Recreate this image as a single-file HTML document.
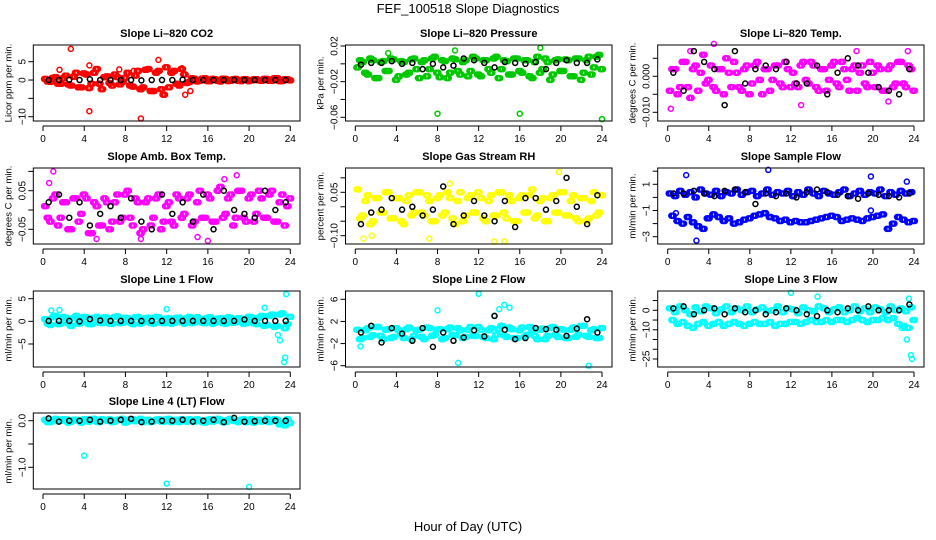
<!DOCTYPE html>
<html><head><meta charset="utf-8"><style>
body{margin:0;background:#fff}
svg{display:block;font-family:"Liberation Sans",sans-serif}
</style></head><body>
<svg id="chart" width="936" height="540" viewBox="0 0 936 540">
<text x="468" y="13" text-anchor="middle" font-size="13">FEF_100518  Slope Diagnostics</text>
<text x="468" y="531" text-anchor="middle" font-size="13">Hour of Day (UTC)</text>
</svg>
<script>
// x ticks shared
const xTicks=[0,4,8,12,16,20,24];
// Panel 1 CO2
const p1c1=[0.3,-0.5,0.8,-1,1.2,-1.5,2,-2,1.5,-1,3,-2.5,1,-1.5,0.8,-0.5,2,-1.8,2.5,-2,3,-3,2.5,-4,-2,2.5,-1.5,1.5,-0.5,0.3,-0.2,0.5,-0.3,0.2,-0.4,0.3,-0.2,0.3,-0.3,0.2,-0.1,0.2,-0.2,0.3,-0.2,0.5,-0.3,0.2];
const p1c2=[-0.4,0.6,-1,0.5,-1.2,0.9,-2,1.8,-2.2,2,-1,0.8,-0.8,1.5,-1.2,0.6,-1.5,1.2,-2.5,2.8,-3,2,-2.5,3.5,2,-1,3,-0.8,0.5,-0.4,0.4,-0.3,0.3,-0.2,0.4,-0.3,0.2,-0.2,0.2,-0.3,0.2,-0.1,0.3,-0.2,0.5,-0.3,0.2,-0.1];
const p1b=[0,0,0.1,0,0.2,0,0,0,0,-0.1,0,0,0,0.1,0,0,0,0,0,0,0,0,0,0];
const p1oT=[2.7,4.5,9.5,4.5,11.2,13.8,14.3,1.6,7.4,8.8,13.5];
const p1oV=[8.5,-8.5,-10.5,4,5.5,-4,-3,2.8,2.9,2.5,3.2];
// Panel 2 Pressure
const p2c1=[-0.004,0.002,-0.012,0.004,-0.016,0.003,-0.008,0.005,-0.014,0.002,-0.01,0.006,-0.016,0.004,-0.006,0.008,-0.015,0.003,-0.01,0.005,-0.012,0.004,-0.008,0.006,-0.014,0.004,-0.01,0.008,-0.006,0.003,-0.012,0.006,-0.01,0.004,-0.016,0.008,-0.006,0.002,-0.012,0.005,-0.008,0.004,-0.014,0.006,-0.01,0.008,-0.004,0.01];
const p2c2=[0.004,-0.01,0.006,-0.016,0.002,-0.008,0.006,-0.018,0.003,-0.012,0.005,-0.006,0.002,-0.014,0.006,-0.01,0.004,-0.016,0.006,-0.008,0.002,-0.014,0.008,-0.012,0.004,-0.006,0.006,-0.016,0.004,-0.012,0.006,-0.008,0.004,-0.014,0.002,-0.01,0.006,-0.018,0.004,-0.008,0.005,-0.014,0.006,-0.018,0.004,-0.012,0.008,-0.006];
const p2b=[-0.001,0.001,0.001,0.003,0,0.001,-0.006,0,-0.004,-0.002,0.006,0.004,0.001,-0.004,0.002,0.001,0,0.002,-0.006,0.001,0.004,0.001,0.001,0.005];
const p2oT=[8,16,24,18,9.7,3.2];
const p2oV=[-0.056,-0.056,-0.062,0.018,0.015,0.012];
// Panel 3 Temp
const p3c1=[-0.004,0.002,-0.003,0.004,-0.006,0.003,0.001,-0.002,0.003,-0.004,0.002,0.005,-0.003,0.001,-0.004,0.003,-0.002,0.004,-0.005,0.002,-0.001,0.003,-0.003,0.002,0.001,-0.003,0.004,-0.002,0.003,-0.004,0.002,-0.001,0.004,-0.003,0.002,-0.004,0.003,0.001,-0.002,0.004,-0.003,0.002,-0.004,0.003,-0.002,0.004,-0.003,0.002];
const p3c2=[0.002,-0.005,0.004,-0.003,0.002,-0.004,0.006,-0.001,-0.003,0.002,-0.005,0.001,0.004,-0.003,0.002,-0.005,0.003,-0.001,0.002,-0.004,0.003,-0.002,0.004,-0.003,-0.002,0.003,-0.001,0.004,-0.003,0.002,-0.004,0.003,-0.002,0.004,-0.001,0.002,-0.004,0.003,-0.003,0.001,0.003,-0.004,0.002,-0.003,0.004,-0.002,0.003,-0.004];
const p3b=[0.001,-0.004,0.007,0.004,0.002,-0.008,0.007,-0.002,0.002,0.003,0.002,0.004,-0.002,-0.002,0.003,-0.005,0.001,0.005,0.003,0.001,-0.003,-0.004,-0.005,0.002];
const p3oT=[0.3,4.5,22.3,13,21.5,2.2,18.4,23.4];
const p3oV=[-0.009,0.009,-0.014,-0.008,-0.007,0.007,0.007,0.007];
// Panel 4 Amb Box Temp
const p4c1=[0.01,-0.03,0.04,-0.02,0.02,-0.05,0.03,-0.01,0.03,-0.06,0.01,-0.04,0.02,-0.03,0.04,-0.02,0.05,-0.04,0.02,-0.05,0.03,-0.02,0.04,-0.03,0.02,-0.04,0.03,-0.01,0.04,-0.03,0.05,-0.02,0.03,-0.03,0.06,-0.01,0.04,-0.02,0.05,-0.03,0.04,-0.01,0.03,-0.02,0.05,-0.03,0.04,0.01];
const p4c2=[-0.02,0.03,-0.04,0.02,-0.05,0.03,-0.03,0.04,-0.06,0.02,-0.04,0.03,-0.05,0.02,-0.03,0.04,-0.02,0.03,-0.06,0.02,-0.04,0.03,-0.05,0.01,-0.03,0.04,-0.02,0.03,-0.04,0.02,-0.02,0.04,-0.03,0.05,-0.02,0.03,-0.04,0.05,-0.02,0.03,-0.03,0.05,-0.02,0.04,-0.03,0.02,-0.04,0.03];
const p4b=[0.02,0.04,-0.02,0.02,-0.04,-0.01,0.01,-0.02,0.03,-0.03,-0.05,0.04,-0.01,0.02,-0.03,0.04,-0.05,0.05,0.0,-0.01,-0.02,0.05,0.0,0.02];
const p4oT=[1,18.8,16,15,5.2,9.5,17.6,0.6];
const p4oV=[0.1,0.09,-0.08,-0.07,-0.075,-0.075,0.08,0.07];
// Panel 5 Gas Stream RH
const p5c1=[0.06,-0.03,0.04,-0.05,0.03,-0.02,0.05,-0.04,0.03,-0.06,0.04,-0.02,0.05,-0.03,0.02,-0.05,0.04,-0.02,0.03,-0.06,0.05,-0.03,0.04,-0.02,0.03,-0.05,0.04,-0.03,0.05,-0.04,0.02,-0.05,0.04,-0.02,0.06,-0.03,0.03,-0.05,0.04,-0.02,0.05,-0.03,0.04,-0.05,0.03,-0.04,0.05,-0.02];
const p5c2=[-0.04,0.02,-0.06,0.03,-0.02,0.05,-0.04,0.03,-0.05,0.02,-0.03,0.05,-0.02,0.04,-0.05,0.03,-0.03,0.05,-0.04,0.02,-0.05,0.03,-0.02,0.05,-0.04,0.02,-0.03,0.05,-0.02,0.04,-0.05,0.03,-0.02,0.04,-0.04,0.02,-0.05,0.03,-0.02,0.05,-0.03,0.02,-0.04,0.03,-0.05,0.02,-0.03,0.04];
const p5b=[-0.06,-0.02,-0.01,0.03,-0.01,0.0,-0.03,-0.01,0.07,-0.06,-0.03,0.02,-0.03,-0.05,0.02,-0.07,0.03,0.03,-0.01,0.02,0.1,0.0,-0.06,0.04];
const p5oT=[13.5,14.5,19.8,9.2,0.8,1.6,7.2];
const p5oV=[-0.12,-0.12,0.12,0.08,-0.11,-0.1,-0.11];
// Panel 6 Sample Flow (two bands)
const p6c1=[0.3,0.1,0.5,0.2,0.4,0,0.6,0.3,0.2,0.5,0.1,0.4,0.3,0.6,0.2,0.4,0.5,0.1,0.3,0.6,0.2,0.4,0.3,0.5,0.1,0.4,0.2,0.6,0.3,0.1,0.5,0.3,0.2,0.4,0.6,0.1,0.3,0.5,0.2,0.4,0.3,0.6,0.1,0.4,0.2,0.5,0.3,0.4];
const p6c2=[-1.4,-1.8,-2,-1.5,-1.9,-2.2,-2.4,-1.6,-1.3,-1.5,-1.8,-1.6,-2,-1.9,-1.7,-1.6,-1.4,-1.3,-1.2,-1.5,-1.6,-1.8,-1.7,-1.9,-1.8,-1.9,-1.9,-1.8,-1.7,-1.6,-1.5,-1.4,-1.5,-1.8,-1.7,-1.6,-1.7,-1.8,-1.6,-1.5,-1.4,-1.3,-2.4,-2,-1.5,-1.7,-1.9,-1.8];
const p6b=[0.3,0.3,0.5,0.3,0.1,0.5,0.6,0.4,-0.5,0.3,0.1,0.3,0.0,0.4,0.6,0.4,0.2,0.1,-0.1,0.3,0.2,0.1,0.0,0.3];
const p6oT=[1.8,9.8,2.8,19.8,23.3,3.8,19.8,0.8];
const p6oV=[1.7,2.1,-3.3,1.6,1.2,-1.6,-1,-1.2];
// Panel 7 Line 1 Flow
const p7c1=[0.5,-0.8,1.2,-0.5,0.8,-1,1.2,-0.3,0.9,-0.6,1,-0.4,0.8,-0.5,1.1,-0.3,0.7,-0.6,1,-0.2,0.8,-0.5,0.9,-0.4,0.7,-0.3,0.8,-0.5,1,-0.2,0.6,-0.4,0.9,-0.3,0.7,-0.5,0.8,-0.2,0.6,-0.4,0.9,-0.6,1.2,-0.8,1.5,-1,1.8,-0.6];
const p7c2=[-0.5,0.9,-0.6,1,-0.4,0.7,-0.5,1,-0.6,0.8,-0.3,0.9,-0.5,1,-0.4,0.8,-0.3,0.9,-0.5,0.7,-0.4,1,-0.3,0.6,-0.5,0.8,-0.2,0.7,-0.4,0.9,-0.3,0.8,-0.5,0.6,-0.4,0.9,-0.3,0.7,-0.5,1,-0.4,0.8,-1,1.2,-1.2,1.5,-1.5,1];
const p7b=[0.1,0.1,0.1,0,0.5,0.2,0.1,0.1,0.1,0.1,0.1,0.1,0.1,0.1,0.1,0.1,0.1,0.1,0.1,0.4,0.1,0.1,0.1,0.1];
const p7oT=[23.6,23.5,23.4,22.8,23,21.5,12,1.6,0.8];
const p7oV=[6,-8,-9,-3,-4.2,3,2.7,2.5,2.4];
// Panel 8 Line 2 Flow
const p8c1=[0.5,-1,0.8,-0.5,1,-1.2,0.6,-0.8,0.4,-1,0.9,-0.6,0.5,-1.2,0.8,-0.4,0.6,-1,0.9,-0.5,0.4,-0.8,1,-0.6,0.5,-1,0.8,-0.4,1.2,-0.8,0.6,-1,0.9,-0.4,0.5,-1.2,0.7,-0.6,1,-0.8,0.5,-1,0.9,-0.4,1.2,-0.8,0.6,-1];
const p8c2=[-1.2,0.4,-0.8,1,-0.6,0.5,-1,0.8,-0.4,0.6,-1.2,0.4,-0.8,0.9,-0.6,0.5,-1.2,0.6,-0.4,0.8,-1,0.5,-0.6,1,-0.8,0.4,-1.2,0.6,-0.5,0.9,-1,0.4,-0.8,1,-0.6,0.5,-1.2,0.8,-0.4,0.6,-1,0.5,-0.8,1.2,-0.6,0.4,-1,0.8];
const p8b=[0,1.2,-1.8,0.8,-0.2,-1.5,0.8,-2.6,0,-1.5,-0.9,0.4,-0.7,3,0.5,-1.2,-1,0.8,0.6,0.5,-0.6,0.7,2.4,0];
const p8oT=[12,14.5,10,22.7,8,15,13.5,14,0.5];
const p8oV=[7,5,-5.5,-6,4,4.5,3,4.2,-2.5];
// Panel 9 Line 3 Flow (two bands)
const p9c1=[1,-1,2,0,-2,1.5,-0.5,2,1,-1.5,0.5,2,-1,1,0,2,-1,0.5,1.5,-0.5,0,2,-1,1,0.5,-1.5,1.5,0,-0.5,2,1,-1,0.5,1.5,-1,0,2,-0.5,1,-1,1.5,0.5,-1,2,0,1,-0.5,1.5];
const p9c2=[-5,-7,-6,-8,-9,-7,-6,-8,-7,-6,-8,-7,-6,-7,-8,-7,-6,-7,-7,-6,-8,-7,-7,-6,-6,-7,-6,-5,-6,-6,-5,-6,-5,-5,-6,-5,-4,-5,-6,-5,-5,-4,-5,-4,-7,-8,-9,-5];
const p9b=[1,2,-2,0,1,-2,1,-1,0,-2,-1,1,0,-2,-3,0,-1,1,0,2,0,0,0,3];
const p9oT=[23.7,23.8,23.3,12,14.6,23.5,22.8,23.1];
const p9oV=[-23,-25,-15,9,7,6,-9,-9];
// Panel 10 Line 4 (LT) Flow
const p10c1=[0.02,-0.03,0.04,0,0.03,-0.02,0.02,-0.04,0.03,0.01,-0.02,0.03,0,-0.03,0.02,0.04,-0.02,0.03,0,-0.03,0.02,-0.01,0.03,-0.02,0.04,0,-0.03,0.02,0.03,-0.02,0.01,-0.04,0.03,0,0.02,-0.03,0.04,-0.01,0.02,-0.03,0.03,0,-0.02,0.04,-0.01,0.02,-0.04,0.03];
const p10c2=[-0.03,0.02,-0.01,0.03,-0.04,0.02,0,0.03,-0.02,0.04,-0.03,0.01,0.03,-0.02,0.02,-0.04,0.03,-0.01,0.04,0.01,-0.03,0.02,-0.02,0.03,-0.03,0.02,0.03,-0.02,-0.01,0.03,-0.03,0.02,-0.02,0.04,-0.03,0.02,0,-0.03,0.03,0.01,-0.04,0.02,0.01,-0.03,0.03,-0.08,-0.1,-0.05];
const p10b=[0.05,-0.02,0,0,0.02,-0.02,0,0.02,0.04,-0.03,-0.02,0,0,0.02,-0.02,0,0.02,-0.03,0.06,-0.02,-0.01,0,0,0];
const p10oT=[4,12,20];
const p10oV=[-0.75,-1.35,-1.42];

const NS='http://www.w3.org/2000/svg';
const svg=document.getElementById('chart');
function mk(tag,attrs,parent){const e=document.createElementNS(NS,tag);for(const k in attrs)e.setAttribute(k,attrs[k]);(parent||svg).appendChild(e);return e;}

const cols=[{x0:43,x24:290.3,bl:33.3,br:300},{x0:355.3,x24:602,bl:345.5,br:612},{x0:667.7,x24:914,bl:657.7,br:924}];
const rows=[{t:45,b:121},{t:168,b:244},{t:291,b:367},{t:413,b:489}];
const smear=[0,0.12,0.24];

const panels=[
 {name:'co2',title:'Slope Li–820 CO2',yl:'Licor ppm per min.',col:'#ff0000',c:0,r:0,v1:5,p1:61.7,v2:-10,p2:116.7,ticks:[5,0,-5,-10],labels:['5','0','','−10'],c1:p1c1,c2:p1c2,bk:p1b,oT:p1oT,oV:p1oV},
 {name:'pressure',title:'Slope Li–820 Pressure',yl:'kPa per min.',col:'#00c800',c:1,r:0,v1:0.02,p1:46,v2:-0.06,p2:117.3,ticks:[0.02,0,-0.02,-0.04,-0.06],labels:['0.02','','−0.02','','−0.06'],c1:p2c1,c2:p2c2,bk:p2b,oT:p2oT,oV:p2oV},
 {name:'temp',title:'Slope Li–820 Temp.',yl:'degrees C per min.',col:'#ff00ff',c:2,r:0,v1:0,p1:76.3,v2:-0.01,p2:112.3,ticks:[0.005,0,-0.005,-0.01],labels:['','0.000','','−0.010'],c1:p3c1,c2:p3c2,bk:p3b,oT:p3oT,oV:p3oV},
 {name:'amb-box-temp',title:'Slope Amb. Box Temp.',yl:'degrees C per min.',col:'#ff00ff',c:0,r:1,v1:0.05,p1:190.7,v2:-0.05,p2:229.3,ticks:[0.1,0.05,0,-0.05],labels:['','0.05','','−0.05'],c1:p4c1,c2:p4c2,bk:p4b,oT:p4oT,oV:p4oV},
 {name:'gas-stream-rh',title:'Slope Gas Stream RH',yl:'percent per min.',col:'#ffff00',c:1,r:1,v1:0.05,p1:192.3,v2:-0.1,p2:235.7,ticks:[0.1,0.05,0,-0.05,-0.1],labels:['','0.05','','','−0.10'],c1:p5c1,c2:p5c2,bk:p5b,oT:p5oT,oV:p5oV},
 {name:'sample-flow',title:'Slope Sample Flow',yl:'ml/min per min.',col:'#0000ff',c:2,r:1,v1:1,p1:184.3,v2:-3,p2:236.7,ticks:[2,1,0,-1,-2,-3],labels:['','1','','−1','','−3'],c1:p6c1,c2:p6c2,bk:p6b,oT:p6oT,oV:p6oV},
 {name:'line1-flow',title:'Slope Line 1 Flow',yl:'ml/min per min.',col:'#00ffff',c:0,r:2,v1:5,p1:298.7,v2:-5,p2:344,ticks:[5,0,-5],labels:['5','0','−5'],c1:p7c1,c2:p7c2,bk:p7b,oT:p7oT,oV:p7oV},
 {name:'line2-flow',title:'Slope Line 2 Flow',yl:'ml/min per min.',col:'#00ffff',c:1,r:2,v1:6,p1:299.3,v2:-6,p2:365.7,ticks:[6,2,-2,-6],labels:['6','2','−2','−6'],c1:p8c1,c2:p8c2,bk:p8b,oT:p8oT,oV:p8oV},
 {name:'line3-flow',title:'Slope Line 3 Flow',yl:'ml/min per min.',col:'#00ffff',c:2,r:2,v1:0,p1:310.3,v2:-25,p2:359,ticks:[5,0,-5,-10,-15,-20,-25],labels:['','0','','−10','','','−25'],c1:p9c1,c2:p9c2,bk:p9b,oT:p9oT,oV:p9oV},
 {name:'line4-flow',title:'Slope Line 4 (LT) Flow',yl:'ml/min per min.',col:'#00ffff',c:0,r:3,v1:0,p1:420.7,v2:-1,p2:467.3,ticks:[0,-0.5,-1],labels:['0.0','','−1.0'],c1:p10c1,c2:p10c2,bk:p10b,oT:p10oT,oV:p10oV}
];

panels.forEach(p=>{
  const C=cols[p.c],R=rows[p.r];
  const xs=t=>C.x0+(C.x24-C.x0)*t/24;
  const ys=v=>p.p1+(p.p2-p.p1)*(v-p.v1)/(p.v2-p.v1);
  const g=mk('g',{});
  
  
  const tt=mk('text',{x:(C.bl+C.br)/2,y:R.t-8,'text-anchor':'middle','font-size':11,'font-weight':'bold'},g);
  tt.textContent=p.title;
  
  
  const yl=mk('text',{transform:`translate(${C.bl-22},${(R.t+R.b)/2}) rotate(-90)`,'text-anchor':'middle','font-size':9.5},g);
  yl.textContent=p.yl;
  
  
  const drawPt=(t,v,col)=>{const y=ys(v);if(y<R.t-2||y>R.b+2)return;const c=mk('circle',{cx:xs(t),cy:y,r:2.5,fill:'none',stroke:col,'stroke-width':1.5},g);
    
    };
  smear.forEach(d=>{
    p.c1.forEach((v,i)=>drawPt(0.1+i*0.5+d,v,p.col));
    p.c2.forEach((v,i)=>drawPt(0.35+i*0.5+d,v,p.col));
  });
  p.oT.forEach((t,i)=>drawPt(t,p.oV[i],p.col));
  p.bk.forEach((v,i)=>drawPt(0.55+i,v,'#000'));
  const bx=mk('rect',{x:C.bl,y:R.t,width:C.br-C.bl,height:R.b-R.t,fill:'none',stroke:'#000','stroke-width':1},g);
  
  
  p.ticks.forEach((v,i)=>{const y=ys(v);if(y<R.t-6||y>R.b+6)return;
    const l=mk('line',{x1:C.bl-5,x2:C.bl,y1:y,y2:y,stroke:'#000'},g);
    
    
    if(p.labels[i]){const tx=mk('text',{transform:`translate(${C.bl-8},${y}) rotate(-90)`,'text-anchor':'middle','font-size':10},g);
      tx.textContent=p.labels[i];
      
      }
  });
  const ax=mk('line',{x1:C.x0,x2:C.x24,y1:R.b+5,y2:R.b+5,stroke:'#000'},g);
  
  
  xTicks.forEach(t=>{const x=xs(t);
    const l=mk('line',{x1:x,x2:x,y1:R.b+5,y2:R.b+10,stroke:'#000'},g);
    
    
    const tx=mk('text',{x:x,y:R.b+21,'text-anchor':'middle','font-size':10},g);
    tx.textContent=t;
    
    });
});
</script>
</body></html>
